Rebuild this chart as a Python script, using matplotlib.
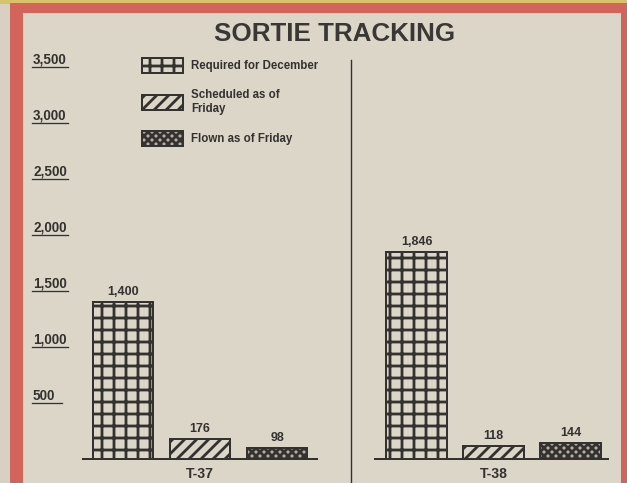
import matplotlib
matplotlib.use('Agg')
import matplotlib.pyplot as plt
from matplotlib.patches import Patch, Rectangle
from matplotlib.lines import Line2D
import matplotlib.transforms as mtransforms

# ---------------- data ----------------
title = "SORTIE TRACKING"
aircraft = ["T-37", "T-38"]
series = ["Required for December", "Scheduled as of\nFriday", "Flown as of Friday"]
required = [1400, 1846]
scheduled = [176, 118]
flown = [98, 144]
yticks = [500, 1000, 1500, 2000, 2500, 3000, 3500]
ytick_labels = ["500", "1,000", "1,500", "2,000", "2,500", "3,000", "3,500"]

# ---------------- style ----------------
DPI = 72
W, H = 627, 483
INK = '#34322f'
PAPER = '#dcd6c9'
RED = '#d3645b'
hatches = ['+', '//', 'xxx']
faces = ['none', 'none', '#b3ada3']
FONT = ['Liberation Sans', 'DejaVu Sans']
plt.rcParams['font.family'] = FONT
plt.rcParams['hatch.linewidth'] = 2.8
plt.rcParams['hatch.color'] = INK

fig = plt.figure(figsize=(W / DPI, H / DPI), dpi=DPI)
fig.patch.set_facecolor('#d8d1c3')

# frame: yellow strip, red border, paper panel
fig.add_artist(Rectangle((0, 1 - 3 / H), 1, 3 / H, transform=fig.transFigure,
                         color='#d9c36a', zorder=0))
fig.add_artist(Rectangle((10 / W, 0), 1 - 10 / W, 1 - 3 / H, transform=fig.transFigure,
                         color=RED, zorder=0))
fig.add_artist(Rectangle((23 / W, 0), (620 - 23) / W, 1 - 13 / H, transform=fig.transFigure,
                         color=PAPER, zorder=0))

# divider
fig.add_artist(Line2D([351 / W, 351 / W], [0, 1 - 60 / H], transform=fig.transFigure,
                      color=INK, lw=1.4))

fig.text(335 / W, 1 - 34 / H, title, ha='center', va='center', fontsize=26,
         fontweight='bold', color='#3a3835')

axes_rects = [[83 / W, 24 / H, 234 / W, 392 / H], [375 / W, 24 / H, 233 / W, 392 / H]]
xlims = [(-0.519, 2.519), (-0.539, 2.487)]

axs = []
for i, name in enumerate(aircraft):
    ax = fig.add_axes(axes_rects[i])
    ax.set_facecolor('none')
    vals = [required[i], scheduled[i], flown[i]]
    for j, v in enumerate(vals):
        cont = ax.bar([j], [v], width=0.78, facecolor=faces[j], edgecolor=INK,
                      linewidth=2, hatch=hatches[j], zorder=2)
        ax.bar_label(cont, labels=[f"{v:,}"], padding=4, fontsize=12.5,
                     fontweight='bold', color=INK)
    ax.set_xlim(*xlims[i])
    ax.set_ylim(0, 3500)
    for s in ['left', 'right', 'top']:
        ax.spines[s].set_visible(False)
    ax.spines['bottom'].set_linewidth(2)
    ax.spines['bottom'].set_color(INK)
    ax.set_yticks([])
    ax.set_xticks([1])
    ax.set_xticklabels([name], fontsize=14, fontweight='bold', color=INK)
    ax.tick_params(axis='x', length=0, pad=8)
    axs.append(ax)

# y labels (underlined) on left panel
ax0 = axs[0]
trans = mtransforms.blended_transform_factory(ax0.transAxes, ax0.transData)
xl = (33 - 83) / 234
texts = []
for v, lab in zip(yticks, ytick_labels):
    t = ax0.text(xl, v, lab, transform=trans, ha='left', va='bottom', fontsize=13.5,
                 fontweight='bold', color=INK, clip_on=False)
    texts.append((v, t))
fig.canvas.draw()
inv = ax0.transAxes.inverted()
for v, t in texts:
    bb = t.get_window_extent()
    x0 = inv.transform((bb.x0 - 1, 0))[0]
    x1 = inv.transform((max(bb.x1 + 1, bb.x0 + 29), 0))[0]
    ax0.plot([x0, x1], [v, v], transform=trans, color=INK, lw=1.3, clip_on=False)

# legend
FS = 11.5
handles = [Patch(facecolor=faces[j], edgecolor=INK, hatch=hatches[j], linewidth=2)
           for j in range(3)]
leg = fig.legend(handles=handles, labels=series, loc='upper left',
                 bbox_to_anchor=(142 / W, 1 - 58 / H), frameon=False,
                 prop={'weight': 'bold', 'size': FS},
                 handlelength=41 / FS, handleheight=18.5 / FS, handletextpad=8 / FS,
                 labelspacing=1.4, borderpad=0, borderaxespad=0)
for t in leg.get_texts():
    t.set_color(INK)

fig.savefig('out.png', dpi=DPI, facecolor=fig.get_facecolor())
